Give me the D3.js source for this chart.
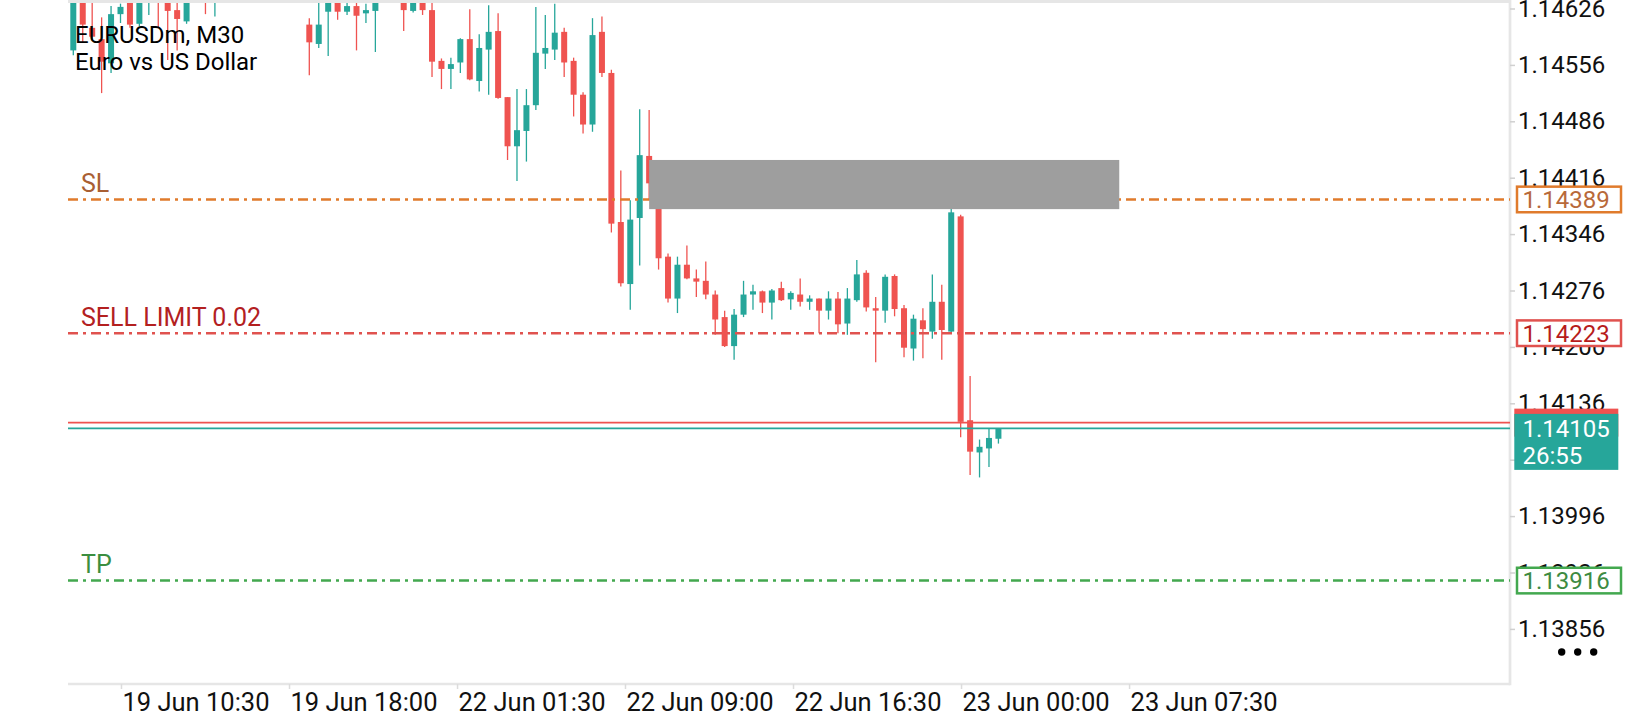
<!DOCTYPE html>
<html>
<head>
<meta charset="utf-8">
<script src="https://cdn.jsdelivr.net/npm/d3@7"></script>
<style>
    html, body { margin: 0; padding: 0; background: #fff; }
    svg { display: block; font-family: Roboto, "Noto Sans", sans-serif; }
</style>
</head>
<body>
<div id="chart"></div>
<script>
const symbolTitle = "EURUSDm, M30";
const symbolName = "Euro vs US Dollar";

// Velas M30 (apertura, máximo, mínimo, cierre)
const opens = [
    1.14574, 1.14640, 1.14602, 1.14588, 1.14558, 1.14619, 1.14643, 1.14607, 1.14639, 1.14655,
    1.14639, 1.14624, 1.14610, 1.14650, 1.14661, 1.14640, 1.14655, 1.14668, 1.14684, 1.14678,
    1.14690, 1.14686, 1.14675, 1.14668, 1.14660, 1.14606, 1.14582, 1.14622, 1.14639, 1.14622,
    1.14629, 1.14620, 1.14623, 1.14640, 1.14652, 1.14642, 1.14623, 1.14640, 1.14624, 1.14561,
    1.14551, 1.14559, 1.14588, 1.14536, 1.14575, 1.14598, 1.14516, 1.14455, 1.14474, 1.14506,
    1.14570, 1.14575, 1.14597, 1.14561, 1.14519, 1.14482, 1.14597, 1.14546, 1.14361, 1.14284,
    1.14366, 1.14443, 1.14409, 1.14318, 1.14266, 1.14308, 1.14291, 1.14288, 1.14271, 1.14243,
    1.14207, 1.14246, 1.14271, 1.14275, 1.14261, 1.14279, 1.14265, 1.14271, 1.14262, 1.14266,
    1.14251, 1.14266, 1.14235, 1.14264, 1.14298, 1.14254, 1.14251, 1.14294, 1.14254, 1.14204,
    1.14239, 1.14225, 1.14262, 1.14225, 1.14368, 1.14115, 1.14075, 1.14080, 1.14092
];
const highs = [
    1.14655, 1.14649, 1.14643, 1.14615, 1.14629, 1.14632, 1.14651, 1.14649, 1.14661, 1.14664,
    1.14646, 1.14639, 1.14649, 1.14668, 1.14671, 1.14668, 1.14672, 1.14690, 1.14702, 1.14695,
    1.14708, 1.14698, 1.14688, 1.14680, 1.14672, 1.14614, 1.14637, 1.14646, 1.14644, 1.14634,
    1.14634, 1.14632, 1.14648, 1.14660, 1.14665, 1.14650, 1.14648, 1.14646, 1.14635, 1.14564,
    1.14565, 1.14589, 1.14625, 1.14594, 1.14630, 1.14620, 1.14516, 1.14526, 1.14526, 1.14628,
    1.14618, 1.14632, 1.14602, 1.14565, 1.14522, 1.14614, 1.14616, 1.14550, 1.14425, 1.14388,
    1.14501, 1.14500, 1.14413, 1.14322, 1.14318, 1.14332, 1.14302, 1.14312, 1.14276, 1.14251,
    1.14253, 1.14288, 1.14283, 1.14276, 1.14278, 1.14287, 1.14275, 1.14291, 1.14270, 1.14266,
    1.14275, 1.14274, 1.14279, 1.14314, 1.14301, 1.14268, 1.14296, 1.14296, 1.14258, 1.14246,
    1.14254, 1.14296, 1.14283, 1.14377, 1.14370, 1.14170, 1.14091, 1.14105, 1.14105
];
const lows = [
    1.14568, 1.14584, 1.14587, 1.14521, 1.14546, 1.14608, 1.14602, 1.14604, 1.14618, 1.14602,
    1.14562, 1.14574, 1.14607, 1.14640, 1.14619, 1.14616, 1.14645, 1.14660, 1.14672, 1.14666,
    1.14680, 1.14670, 1.14660, 1.14652, 1.14638, 1.14543, 1.14577, 1.14567, 1.14612, 1.14618,
    1.14574, 1.14608, 1.14572, 1.14636, 1.14638, 1.14598, 1.14621, 1.14618, 1.14541, 1.14526,
    1.14526, 1.14546, 1.14537, 1.14523, 1.14519, 1.14514, 1.14438, 1.14412, 1.14436, 1.14500,
    1.14551, 1.14562, 1.14541, 1.14492, 1.14471, 1.14473, 1.14541, 1.14348, 1.14281, 1.14252,
    1.14307, 1.14388, 1.14302, 1.14261, 1.14248, 1.14290, 1.14268, 1.14265, 1.14221, 1.14206,
    1.14190, 1.14243, 1.14252, 1.14248, 1.14240, 1.14263, 1.14252, 1.14256, 1.14252, 1.14223,
    1.14240, 1.14223, 1.14221, 1.14262, 1.14250, 1.14187, 1.14236, 1.14244, 1.14193, 1.14189,
    1.14192, 1.14216, 1.14190, 1.14223, 1.14094, 1.14047, 1.14044, 1.14057, 1.14086
];
const closes = [
    1.14643, 1.14606, 1.14591, 1.14560, 1.14619, 1.14628, 1.14606, 1.14640, 1.14651, 1.14641,
    1.14623, 1.14613, 1.14641, 1.14660, 1.14643, 1.14655, 1.14668, 1.14684, 1.14678, 1.14690,
    1.14686, 1.14675, 1.14668, 1.14660, 1.14645, 1.14584, 1.14606, 1.14640, 1.14622, 1.14629,
    1.14617, 1.14624, 1.14640, 1.14652, 1.14645, 1.14624, 1.14640, 1.14624, 1.14560, 1.14551,
    1.14557, 1.14588, 1.14538, 1.14577, 1.14597, 1.14515, 1.14455, 1.14475, 1.14506, 1.14571,
    1.14577, 1.14596, 1.14559, 1.14519, 1.14482, 1.14593, 1.14546, 1.14359, 1.14285, 1.14364,
    1.14444, 1.14409, 1.14316, 1.14266, 1.14308, 1.14291, 1.14287, 1.14271, 1.14240, 1.14207,
    1.14246, 1.14271, 1.14275, 1.14261, 1.14276, 1.14264, 1.14273, 1.14262, 1.14266, 1.14251,
    1.14266, 1.14234, 1.14266, 1.14296, 1.14255, 1.14251, 1.14293, 1.14253, 1.14205, 1.14241,
    1.14228, 1.14262, 1.14227, 1.14373, 1.14113, 1.14076, 1.14082, 1.14093, 1.14105
];

const yTickValues = [
    1.14626, 1.14556, 1.14486, 1.14416, 1.14346, 1.14276,
    1.14206, 1.14136, 1.14066, 1.13996, 1.13926, 1.13856
];
const xTickLabels = [
    "19 Jun 10:30", "19 Jun 18:00", "22 Jun 01:30", "22 Jun 09:00",
    "22 Jun 16:30", "23 Jun 00:00", "23 Jun 07:30"
];
// posición de cada etiqueta de tiempo, en número de vela
const xTickIndex = [5.05, 22.85, 40.65, 58.44, 76.24, 94.04, 111.84];

const levelNames = ["SL", "SELL LIMIT 0.02", "TP"];
const levelPrices = [1.14389, 1.14223, 1.13916];

const bidPrice = 1.14105;
const askPrice = 1.14112;
const barCountdown = "26:55";

// zona gris (rectángulo)
const zoneFromIndex = 61;
const zoneToIndex = 110.8;
const zonePrices = [1.14438, 1.14377];

/**
 * Construye el gráfico de velas con niveles de la orden.
 * @param containerSelector: Selector del contenedor.
 * @param width: Ancho del gráfico.
 * @param height: Alto del gráfico.
 */
const buildCandleChart = (containerSelector, width, height) => {
    const plot = { left: 68, right: 1510, top: 3, bottom: 684 };
    const firstBarX = 73.3;
    const barStep = 9.44;
    const bodyWidth = 6;
    const bullColor = "#26a69a";
    const bearColor = "#ef5350";
    const borderColor = "#e6e6e6";

    const levelStyles = [
        { line: "#e07b2c", label: "#a95f33", text: "#b8693a" },
        { line: "#e0524f", label: "#b3201f", text: "#b71c1c" },
        { line: "#43a84f", label: "#3b8e40", text: "#3d8b42" }
    ];

    const candles = opens.map((o, i) => ({ i, o, h: highs[i], l: lows[i], c: closes[i] }));

    const xScale = d3.scaleLinear()
        .domain([0, 1])
        .range([firstBarX, firstBarX + barStep]);

    const yScale = d3.scaleLinear()
        .domain([1.13856, 1.14626])
        .range([628.9, 8.5]);

    const svg = d3.select(containerSelector).append("svg")
        .attr("width", width)
        .attr("height", height);

    svg.append("defs").append("clipPath")
        .attr("id", "plot-clip")
        .append("rect")
        .attr("x", plot.left)
        .attr("y", plot.top)
        .attr("width", plot.right - plot.left)
        .attr("height", plot.bottom - plot.top);

    drawBorders();
    const plotArea = svg.append("g").attr("clip-path", "url(#plot-clip)");
    drawCandles(plotArea);
    drawLevelLines(plotArea);
    drawZone(plotArea);
    drawTitle();
    drawYAxis();
    drawPriceBoxes();
    drawXAxis();
    drawMenuDots();

    /**
     * Bordes superior, derecho e inferior del área del gráfico.
     */
    function drawBorders() {
        svg.append("line")
            .attr("x1", plot.left).attr("x2", plot.right)
            .attr("y1", 1.5).attr("y2", 1.5)
            .attr("stroke", borderColor).attr("stroke-width", 3);
        svg.append("line")
            .attr("x1", plot.right).attr("x2", plot.right)
            .attr("y1", 0).attr("y2", plot.bottom + 1.3)
            .attr("stroke", borderColor).attr("stroke-width", 2.7);
        svg.append("line")
            .attr("x1", plot.left).attr("x2", plot.right)
            .attr("y1", plot.bottom).attr("y2", plot.bottom)
            .attr("stroke", borderColor).attr("stroke-width", 2.7);
    }

    /**
     * Dibuja mechas y cuerpos de las velas.
     * @param g: Grupo recortado al área del gráfico.
     */
    function drawCandles(g) {
        const color = d => d.c >= d.o ? bullColor : bearColor;

        g.selectAll("line.wick")
            .data(candles)
            .enter()
            .append("line")
            .attr("class", "wick")
            .attr("x1", d => xScale(d.i))
            .attr("x2", d => xScale(d.i))
            .attr("y1", d => yScale(d.h))
            .attr("y2", d => yScale(d.l))
            .attr("stroke", color)
            .attr("stroke-width", 1.3);

        g.selectAll("rect.body")
            .data(candles)
            .enter()
            .append("rect")
            .attr("class", "body")
            .attr("x", d => xScale(d.i) - bodyWidth / 2)
            .attr("y", d => yScale(Math.max(d.o, d.c)))
            .attr("width", bodyWidth)
            .attr("height", d => Math.max(1.2, Math.abs(yScale(d.o) - yScale(d.c))))
            .attr("fill", color);
    }

    /**
     * Líneas de SL, orden pendiente, TP y precios ask / bid.
     * @param g: Grupo recortado al área del gráfico.
     */
    function drawLevelLines(g) {
        levelPrices.forEach((p, i) => {
            g.append("line")
                .attr("x1", plot.left).attr("x2", plot.right)
                .attr("y1", yScale(p)).attr("y2", yScale(p))
                .attr("stroke", levelStyles[i].line)
                .attr("stroke-width", 2.6)
                .attr("stroke-dasharray", "10,5,3,5");

            svg.append("text")
                .attr("x", 81)
                .attr("y", yScale(p) - 7.5)
                .attr("font-size", 25)
                .attr("fill", levelStyles[i].label)
                .text(levelNames[i]);
        });

        g.append("line")
            .attr("x1", plot.left).attr("x2", plot.right)
            .attr("y1", yScale(askPrice)).attr("y2", yScale(askPrice))
            .attr("stroke", bearColor).attr("stroke-width", 1.8);

        g.append("line")
            .attr("x1", plot.left).attr("x2", plot.right)
            .attr("y1", yScale(bidPrice)).attr("y2", yScale(bidPrice))
            .attr("stroke", bullColor).attr("stroke-width", 1.8);
    }

    /**
     * Rectángulo gris de la zona de oferta.
     * @param g: Grupo recortado al área del gráfico.
     */
    function drawZone(g) {
        g.append("rect")
            .attr("x", xScale(zoneFromIndex))
            .attr("y", yScale(zonePrices[0]))
            .attr("width", xScale(zoneToIndex) - xScale(zoneFromIndex))
            .attr("height", yScale(zonePrices[1]) - yScale(zonePrices[0]))
            .attr("fill", "#9e9e9e");
    }

    function drawTitle() {
        svg.append("text")
            .attr("x", 75).attr("y", 42.7)
            .attr("font-size", 24).attr("fill", "#000")
            .text(symbolTitle);
        svg.append("text")
            .attr("x", 75).attr("y", 70)
            .attr("font-size", 24).attr("fill", "#000")
            .text(symbolName);
    }

    /**
     * Eje de precios a la derecha.
     */
    function drawYAxis() {
        const yAxis = d3.axisRight(yScale)
            .tickValues(yTickValues)
            .tickFormat(d3.format(".5f"))
            .tickSize(5)
            .tickPadding(3);

        const g = svg.append("g")
            .attr("transform", `translate(${plot.right},0)`)
            .call(yAxis);
        g.select(".domain").remove();
        g.selectAll(".tick line").attr("stroke", "#d0d0d0").attr("stroke-width", 1.5);
        g.selectAll(".tick text")
            .attr("font-size", 24)
            .attr("font-family", "Roboto, 'Noto Sans', sans-serif")
            .attr("fill", "#111");
    }

    /**
     * Cajas de precio de los niveles, del ask y del bid (con el tiempo restante de la vela).
     */
    function drawPriceBoxes() {
        levelPrices.forEach((p, i) => {
            svg.append("rect")
                .attr("x", 1517).attr("y", yScale(p) - 12.8)
                .attr("width", 104).attr("height", 25.6)
                .attr("fill", "#fff")
                .attr("stroke", levelStyles[i].line)
                .attr("stroke-width", 2.5);
            svg.append("text")
                .attr("x", 1522.5).attr("y", yScale(p))
                .attr("dy", "0.35em")
                .attr("font-size", 24)
                .attr("fill", levelStyles[i].text)
                .text(d3.format(".5f")(p));
        });

        const askY = yScale(askPrice);
        svg.append("rect")
            .attr("x", 1514.3).attr("y", askY - 14)
            .attr("width", 104).attr("height", 28)
            .attr("fill", bearColor);
        svg.append("text")
            .attr("x", 1522.5).attr("y", askY)
            .attr("dy", "0.35em")
            .attr("font-size", 24).attr("fill", "#fff")
            .text(d3.format(".5f")(askPrice));

        const bidY = yScale(bidPrice);
        svg.append("rect")
            .attr("x", 1514.3).attr("y", bidY - 14.4)
            .attr("width", 104).attr("height", 56)
            .attr("fill", bullColor);
        svg.append("text")
            .attr("x", 1522.5).attr("y", bidY + 8.3)
            .attr("font-size", 24).attr("fill", "#fff")
            .text(d3.format(".5f")(bidPrice));
        svg.append("text")
            .attr("x", 1522.5).attr("y", bidY + 35.6)
            .attr("font-size", 24).attr("fill", "#fff")
            .text(barCountdown);
    }

    /**
     * Eje de tiempo inferior, etiquetas alineadas a la izquierda de cada marca.
     */
    function drawXAxis() {
        const xAxis = d3.axisBottom(xScale)
            .tickValues(xTickIndex)
            .tickFormat((d, i) => xTickLabels[i])
            .tickSize(5)
            .tickPadding(3.6);

        const g = svg.append("g")
            .attr("transform", `translate(0,${plot.bottom})`)
            .call(xAxis);
        g.select(".domain").remove();
        g.selectAll(".tick line").attr("stroke", "#dcdcdc").attr("stroke-width", 1.5);
        g.selectAll(".tick text")
            .attr("text-anchor", "start")
            .attr("x", 1)
            .attr("font-size", 25.5)
            .attr("font-family", "Roboto, 'Noto Sans', sans-serif")
            .attr("fill", "#111");
    }

    function drawMenuDots() {
        svg.selectAll("circle.dot")
            .data([0, 1, 2])
            .enter()
            .append("circle")
            .attr("class", "dot")
            .attr("cx", d => 1561.7 + d * 16)
            .attr("cy", 652)
            .attr("r", 3.7)
            .attr("fill", "#000");
    }
};

buildCandleChart("#chart", 1640, 720);
</script>
</body>
</html>
